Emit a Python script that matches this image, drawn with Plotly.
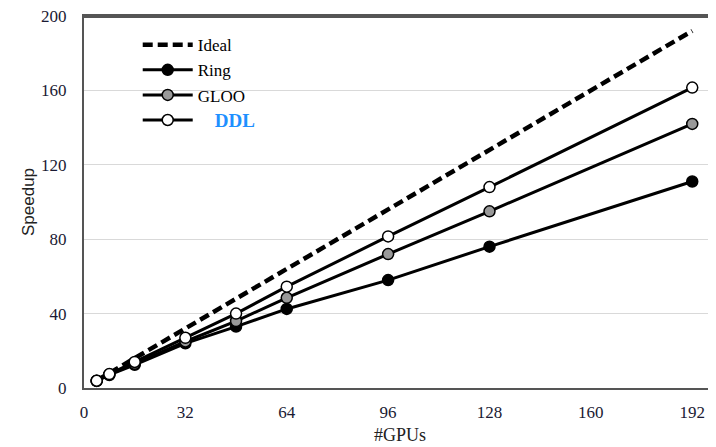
import plotly.graph_objects as go

gpus = [4, 8, 16, 32, 48, 64, 96, 128, 192]
ideal = [4, 8, 16, 32, 48, 64, 96, 128, 192]
ring = [3.8, 7, 12.5, 24, 33, 42.5, 58, 76, 111]
gloo = [3.9, 7.3, 13, 25, 36, 48.5, 72, 95, 142]
ddl = [3.9, 7.5, 14, 27, 40, 54.5, 81.5, 108, 161.5]
xticks = [0, 32, 64, 96, 128, 160, 192]
yticks = [0, 40, 80, 120, 160, 200]

fig = go.Figure()
fig.add_trace(go.Scatter(x=gpus, y=ideal, mode="lines", name="Ideal",
                         line=dict(color="black", width=4.5, dash="10px,5px")))
fig.add_trace(go.Scatter(x=gpus, y=ring, mode="lines+markers", name="Ring",
                         line=dict(color="black", width=3),
                         marker=dict(size=11, color="black", line=dict(color="black", width=1.5))))
fig.add_trace(go.Scatter(x=gpus, y=gloo, mode="lines+markers", name="GLOO",
                         line=dict(color="black", width=3),
                         marker=dict(size=11, color="#999999", line=dict(color="black", width=1.5))))
fig.add_trace(go.Scatter(x=gpus, y=ddl, mode="lines+markers",
                         name="    <b><span style='color:#1E90FF;font-size:19px'>DDL</span></b>",
                         line=dict(color="black", width=3),
                         marker=dict(size=11, color="white", line=dict(color="black", width=1.5))))

fig.update_layout(
    width=708, height=439,
    margin=dict(l=76, r=0, t=8, b=59),
    paper_bgcolor="white", plot_bgcolor="white",
    font=dict(family="Liberation Serif", size=17, color="#1a1a33"),
    showlegend=True,
    legend=dict(x=0.085, y=0.97, xanchor="left", yanchor="top",
                bgcolor="rgba(0,0,0,0)", font=dict(size=17, color="black"),
                tracegroupgap=6, itemwidth=50),
    xaxis=dict(range=[0, 199.5], tickvals=xticks, showgrid=False, zeroline=False,
               showline=True, linecolor="#555555", linewidth=2, mirror=True,
               automargin=False,
               ticks="", title=dict(text="#GPUs", font=dict(size=18, color="#222"), standoff=7),
               ticklabelstandoff=8),
    yaxis=dict(range=[0, 200], tickvals=yticks, showgrid=True, gridcolor="#d9d9d9",
               gridwidth=1, zeroline=False, showline=True, linecolor="#555555",
               linewidth=2, ticks="", automargin=False, ticklabeloverflow="allow",
               title=dict(text="Speedup", font=dict(family="Liberation Sans", size=17, color="#222"), standoff=2),
               ticklabelstandoff=12),
    shapes=[dict(type="line", xref="paper", yref="paper", x0=0, x1=1, y0=0.997, y1=0.997,
                 line=dict(color="#555555", width=2), layer="above")],
)

fig.write_html("out.html")
